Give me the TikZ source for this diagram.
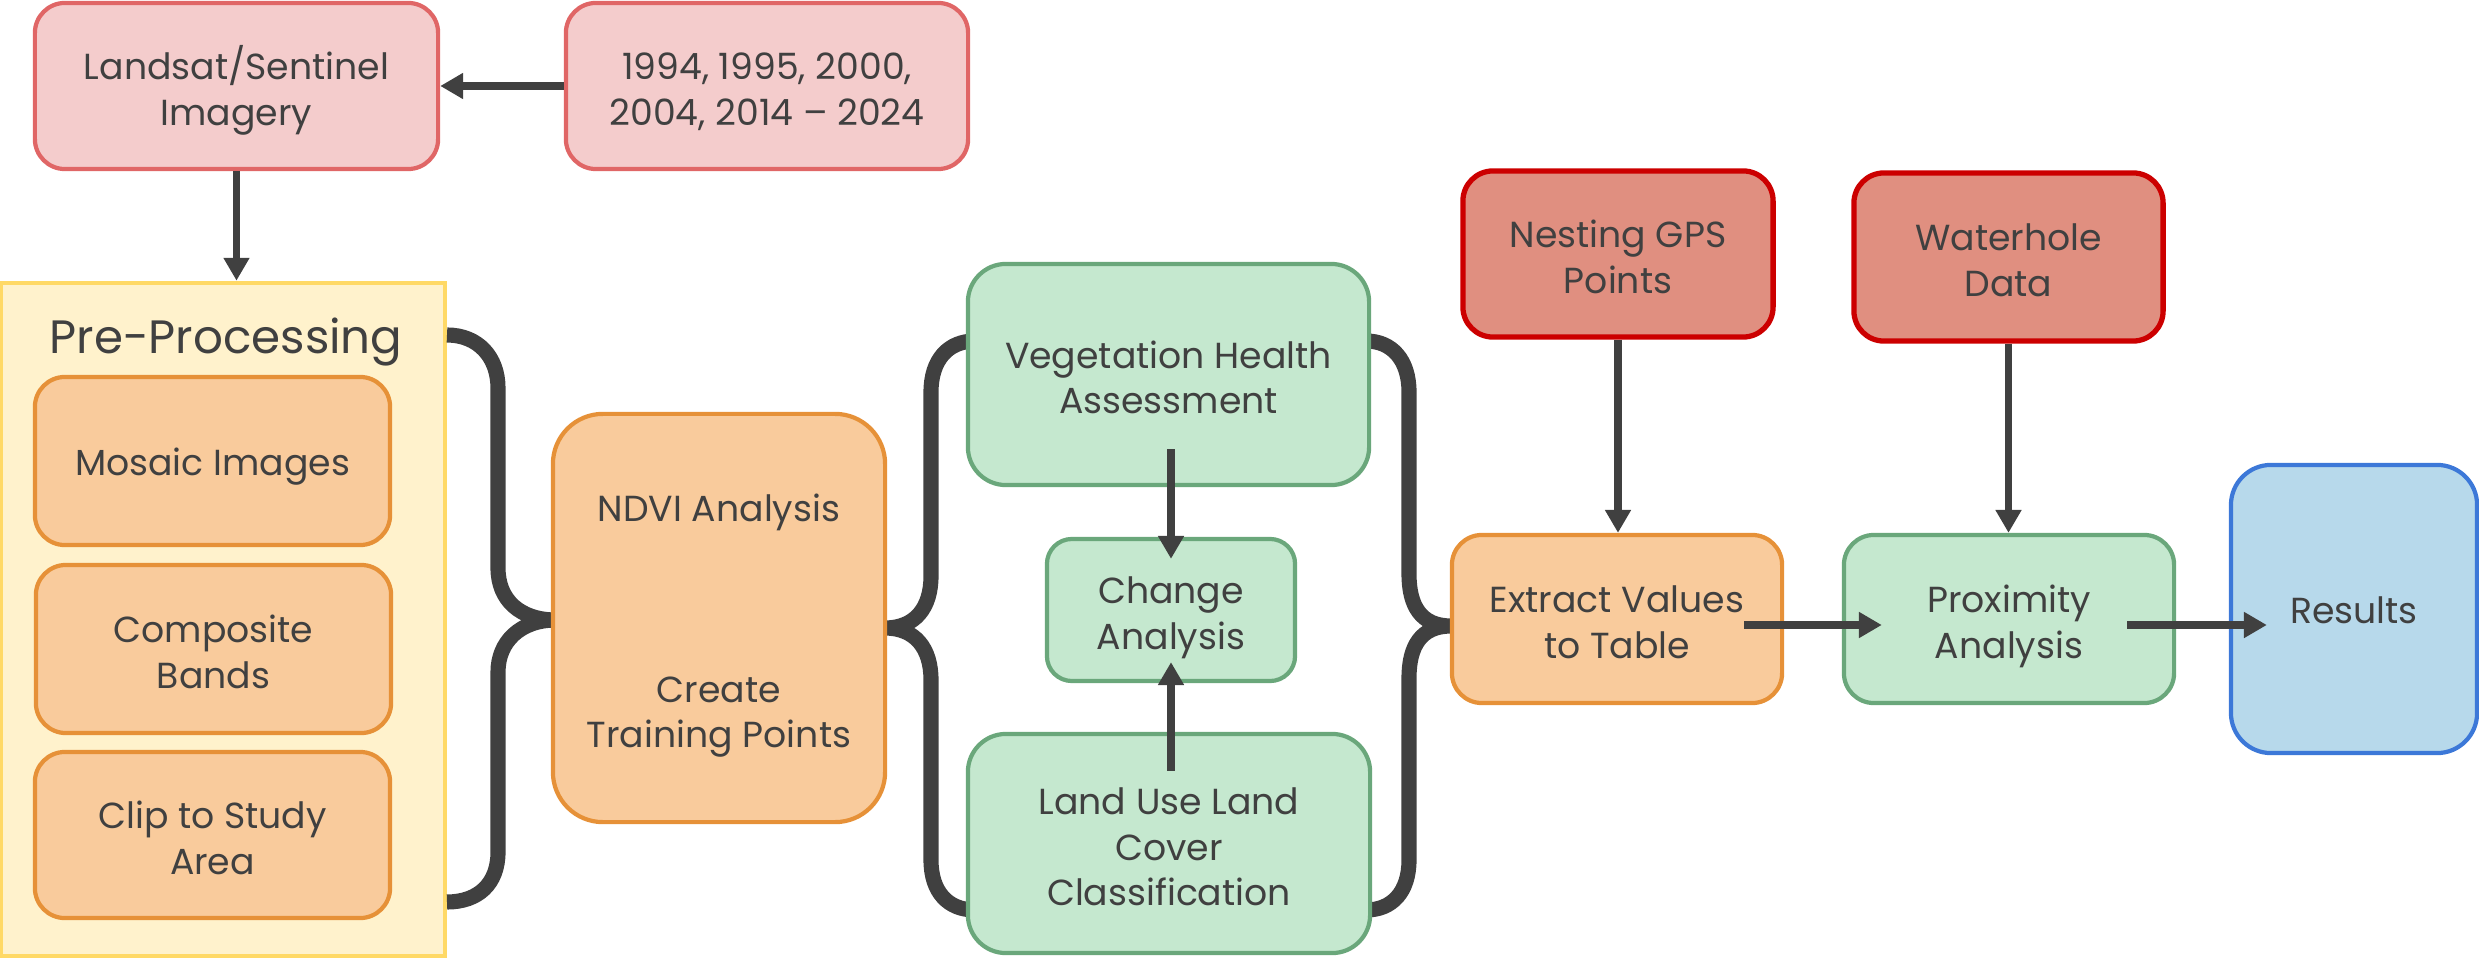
\documentclass[tikz,border=0pt]{standalone}
\usepackage{fontspec}
\setmainfont{Poppins}
\usetikzlibrary{arrows.meta,calc}
\definecolor{txt}{HTML}{404040}
\definecolor{pinkfill}{HTML}{F4CCCC}
\definecolor{pinkdraw}{HTML}{E06666}
\definecolor{yelfill}{HTML}{FFF2CC}
\definecolor{yeldraw}{HTML}{FFD966}
\definecolor{orfill}{HTML}{F9CB9C}
\definecolor{ordraw}{HTML}{E69138}
\definecolor{grfill}{HTML}{C5E8CF}
\definecolor{grdraw}{HTML}{6AA77B}
\definecolor{redfill}{HTML}{E08F80}
\definecolor{reddraw}{HTML}{CC0000}
\definecolor{blfill}{HTML}{B7D9EB}
\definecolor{bldraw}{HTML}{3C78D8}
\newcommand{\firststrut}{\rule{0pt}{12.4pt}}
\begin{document}
\begin{tikzpicture}[x=0.01cm,y=-0.01cm,
  box/.style={rectangle, rounded corners=#1, line width=1.2pt, align=center, text=txt, inner sep=0pt,
    font=\fontsize{10.3}{13}\selectfont,
    execute at begin node={\rule{0pt}{11.3pt}},
    execute at end node={\rule[-3pt]{0pt}{0pt}}},
  box/.default=0.3cm,
  sz/.style 2 args={minimum width=#1cm, minimum height=#2cm},
  pinkbox/.style={box=0.3cm, fill=pinkfill, draw=pinkdraw},
  orbox/.style={box=#1, fill=orfill, draw=ordraw},
  orbox/.default=0.3cm,
  grbox/.style={box=#1, fill=grfill, draw=grdraw},
  grbox/.default=0.3cm,
  redbox/.style={box=0.3cm, fill=redfill, draw=reddraw, line width=1.5pt},
  arr/.style={draw=txt, line width=2.1pt, -{Triangle[width=7pt,length=6.5pt]}},
  brace/.style={draw=txt, line width=4.3pt, line join=round, line cap=butt}
]
\useasboundingbox (0,0) rectangle (2479,958);

% top inputs
\node[pinkbox, sz={4.03}{1.66}] (land) at (236.5,86) {\firststrut Landsat/Sentinel\\Imagery};
\node[pinkbox, sz={4.02}{1.66}] (years) at (767,86) {\firststrut 1994, 1995, 2000,\\2004, 2014 -- 2024};

% pre-processing panel
\node[rectangle, fill=yelfill, draw=yeldraw, line width=1.2pt, minimum width=4.43cm, minimum height=6.73cm, inner sep=0pt] (pre) at (223,619.5) {};
\node[text=txt, font=\fontsize{13.3}{16}\selectfont] (pretitle) at (226,342) {Pre-Processing};
\node[orbox, sz={3.55}{1.68}] (mosaic) at (212.5,461) {Mosaic Images};
\node[orbox, sz={3.55}{1.68}] (comp) at (213.5,649) {\firststrut Composite\\Bands};
\node[orbox, sz={3.55}{1.66}] (clip) at (212.5,835) {\firststrut Clip to Study\\Area};

% braces
\draw[brace] (447,335) .. controls (478,335) and (498,357) .. (498,388)
  -- (498,568) .. controls (498,600) and (520,620) .. (556,620)
  .. controls (520,620) and (498,642) .. (498,672)
  -- (498,852) .. controls (498,884) and (478,902) .. (447,902);
\draw[brace] (975,341) .. controls (948,341) and (931,360) .. (931,392)
  -- (931,576) .. controls (931,608) and (915,628) .. (885,628)
  .. controls (915,628) and (931,648) .. (931,680)
  -- (931,860) .. controls (931,892) and (948,910) .. (975,910);
\draw[brace] (1366,341) .. controls (1392,341) and (1409,360) .. (1409,392)
  -- (1409,574) .. controls (1409,606) and (1421,626) .. (1451,626)
  .. controls (1421,626) and (1409,646) .. (1409,678)
  -- (1409,860) .. controls (1409,892) and (1392,910) .. (1366,910);

% NDVI
\node[orbox=0.5cm, sz={3.32}{4.08}] (ndvi) at (719,618) {\firststrut NDVI Analysis\\[1.35cm]Create\\Training Points};

% green column
\node[grbox=0.38cm, sz={4.01}{2.21}] (veg) at (1168.5,374.5) {\firststrut Vegetation Health\\Assessment};
\node[grbox=0.25cm, sz={2.48}{1.42}] (change) at (1171,610) {\firststrut Change\\Analysis};
\node[grbox=0.38cm, sz={4.02}{2.19}] (lulc) at (1169,843.5) {\firststrut Land Use Land\\Cover\\Classification};

% right part
\node[redbox, sz={3.10}{1.66}] (nest) at (1618,254) {\firststrut Nesting GPS\\Points};
\node[redbox, sz={3.09}{1.68}] (water) at (2008.5,257) {\firststrut Waterhole\\Data};
\node[orbox, sz={3.30}{1.68}] (ext) at (1617,619) {\firststrut Extract Values\\to Table};
\node[grbox, sz={3.30}{1.68}] (prox) at (2009,619) {\firststrut Proximity\\Analysis};
\node[box=0.4cm, fill=blfill, draw=bldraw, sz={2.46}{2.88}] (res) at (2354,609) {Results};

% arrows
\draw[arr] (years.west) -- (land.east |- years.west);
\draw[arr] (land.south) -- (land.south |- pre.north);
\draw[arr] ($(veg.south)+(2.5,-38)$) -- ($(change.north)+(0,22)$);
\draw[arr] ($(lulc.south |- lulc.north)+(2,39)$) -- ($(change.south)+(0,-21)$);
\draw[arr] (nest.south) -- (nest.south |- ext.north);
\draw[arr] (water.south) -- (water.south |- prox.north);
\draw[arr] ($(ext.east)+(-40,6)$) -- ($(prox.west)+(40,6)$);
\draw[arr] ($(prox.east)+(-49,6)$) -- ($(res.west)+(38,16)$);
\end{tikzpicture}
\end{document}
